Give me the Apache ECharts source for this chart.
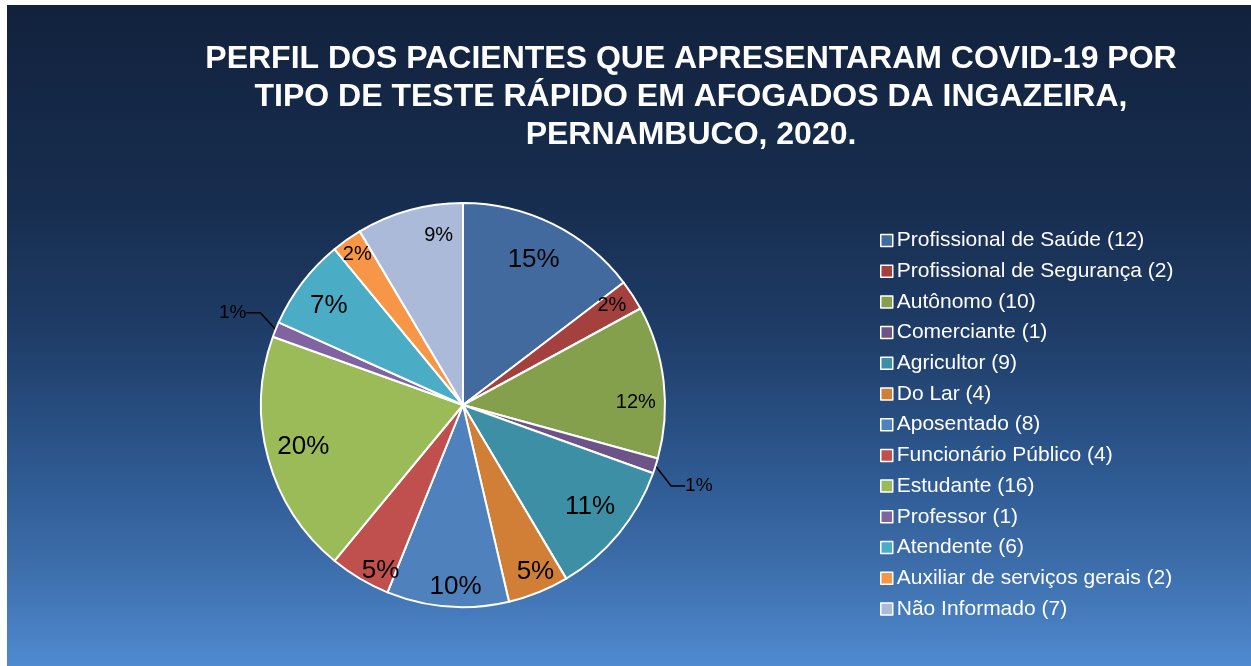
<!DOCTYPE html>
<html>
<head>
<meta charset="utf-8">
<script src="https://cdn.jsdelivr.net/npm/echarts@6/dist/echarts.min.js"></script>
<style>
  html, body { margin: 0; padding: 0; background: #fff; }
  #chart { position: absolute; left: 7px; top: 5px; width: 1244px; height: 661px; }
</style>
</head>
<body>
<div id="chart"></div>
<script>
// dados do gráfico
const categorias = [
  "Profissional de Saúde", "Profissional de Segurança", "Autônomo", "Comerciante",
  "Agricultor", "Do Lar", "Aposentado", "Funcionário Público", "Estudante",
  "Professor", "Atendente", "Auxiliar de serviços gerais", "Não Informado"
];
const valores = [12, 2, 10, 1, 9, 4, 8, 4, 16, 1, 6, 2, 7];

// cores das fatias
const cores = [
  "#426a9e", "#a4403d", "#84a04d", "#6c5489", "#3d8fa5", "#d17f37",
  "#4f81bd", "#c0504d", "#9bbb59", "#8064a2", "#4bacc6", "#f79646", "#abbad8"
];
// tamanho da fonte do rótulo de cada fatia
const fonteRotulo = [26, 20, 20, 19, 26, 26, 26, 26, 26, 19, 26, 20, 20];
// ajuste fino da posição do rótulo (como o Excel "melhor ajuste")
const ajusteRotulo = [
  [-7, 12], [2, -4], [-1, 18], [-5, 17], [-8, -10], [7, 5], [6, 7],
  [7, 15], [9, -5], [5, -13], [5, 7], [-5, -7], [22, -1]
];

const myChart = echarts.init(document.getElementById("chart"));

const fatias = categorias.map((nome, i) => ({
  name: nome,
  value: valores[i],
  itemStyle: { color: cores[i] },
}));

// série sobreposta só para posicionar os rótulos perto da borda
const rotulos = categorias.map((nome, i) => {
  const item = {
    name: nome,
    value: valores[i],
    label: { fontSize: fonteRotulo[i] },
  };
  if (valores[i] === 1) {
    // fatias de 1% têm rótulo fora, com linha guia
    item.label.position = "outside";
    item.label.padding = [0, 6];
    item.labelLine = { show: true, length: 10, length2: 14 };
  }
  return item;
});

const option = {
  backgroundColor: {
    type: "linear",
    x: 0, y: 0, x2: 0, y2: 1,
    colorStops: [
      { offset: 0, color: "#12223d" },
      { offset: 0.3, color: "#172d4f" },
      { offset: 0.5, color: "#1f3d68" },
      { offset: 0.7, color: "#2d5890" },
      { offset: 0.85, color: "#3d6eab" },
      { offset: 1, color: "#4f8ad0" },
    ],
  },
  animation: false,
  title: {
    text: "PERFIL DOS PACIENTES QUE APRESENTARAM COVID-19 POR\nTIPO DE TESTE RÁPIDO EM AFOGADOS DA INGAZEIRA,\nPERNAMBUCO, 2020.",
    left: 679,
    top: 30,
    textAlign: "center",
    textStyle: {
      color: "#ffffff",
      fontFamily: "Liberation Sans",
      fontWeight: "bold",
      fontSize: 32,
      lineHeight: 38,
    },
  },
  legend: {
    orient: "vertical",
    left: 868,
    top: 220,
    itemWidth: 12,
    itemHeight: 12,
    itemGap: 9.7,
    icon: "rect",
    itemStyle: { borderColor: "#ffffff", borderWidth: 1.5 },
    formatter: (name) => name + " (" + valores[categorias.indexOf(name)] + ")",
    textStyle: {
      color: "#ffffff",
      fontFamily: "Liberation Sans",
      fontSize: 21,
      lineHeight: 21,
      padding: [0, 0, 0, -1],
    },
    data: categorias,
  },
  series: [
    {
      type: "pie",
      center: [456, 400],
      radius: [0, 202],
      startAngle: 90,
      silent: true,
      label: { show: false },
      labelLine: { show: false },
      itemStyle: { borderColor: "#ffffff", borderWidth: 2 },
      data: fatias,
    },
    {
      type: "pie",
      center: [456, 400],
      radius: [142, 202],
      startAngle: 90,
      silent: true,
      avoidLabelOverlap: false,
      itemStyle: { color: "rgba(0,0,0,0)", borderWidth: 0 },
      label: {
        show: true,
        position: "inside",
        color: "#000000",
        fontFamily: "Liberation Sans",
        formatter: (p) => Math.round(p.percent) + "%",
      },
      labelLine: {
        show: false,
        lineStyle: { color: "#000000", width: 1.5 },
      },
      // x/y absolutos fazem a linha guia acompanhar o rótulo
      labelLayout: (p) => ({
        x: p.labelRect.x + p.labelRect.width / 2 + ajusteRotulo[p.dataIndex][0],
        y: p.labelRect.y + p.labelRect.height / 2 + ajusteRotulo[p.dataIndex][1],
        align: "center",
        verticalAlign: "middle",
      }),
      data: rotulos,
    },
  ],
};
myChart.setOption(option);

window.addEventListener("resize", () => {
  myChart.resize();
});
</script>
</body>
</html>
